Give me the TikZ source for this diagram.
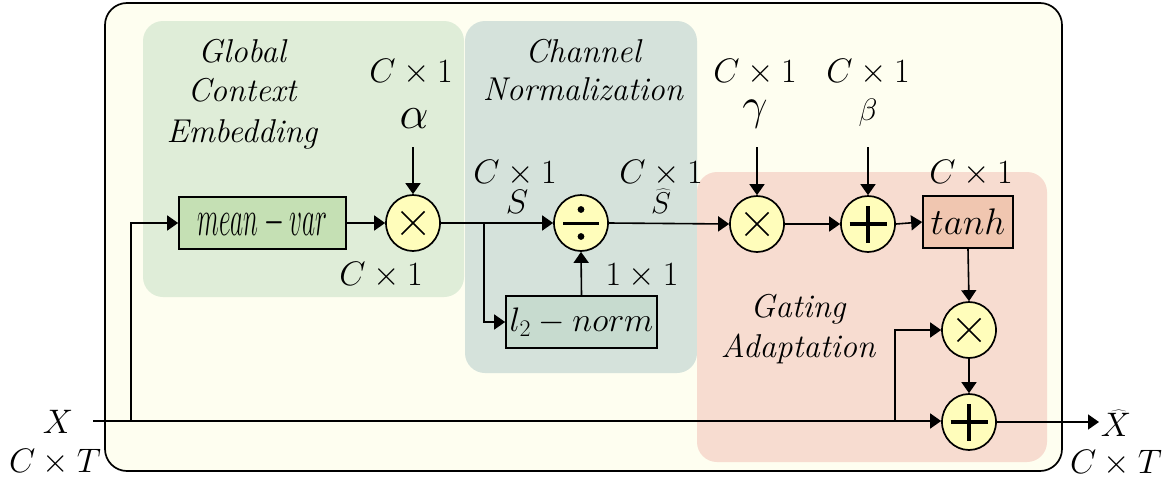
\RequirePackage{fix-cm}
\documentclass[tikz,border=0pt]{standalone}
\usepackage{graphicx}
\usetikzlibrary{arrows.meta,shapes.geometric}
\definecolor{outerfill}{RGB}{254,254,240}
\definecolor{gcefill}{RGB}{223,237,216}
\definecolor{cnfill}{RGB}{213,226,219}
\definecolor{gafill}{RGB}{247,220,208}
\definecolor{mvfill}{RGB}{197,224,180}
\definecolor{ltwofill}{RGB}{199,219,207}
\definecolor{thfill}{RGB}{240,198,176}
\definecolor{circfill}{RGB}{255,253,187}
\tikzset{
  ln/.style={line width=1.6pt},
  arr/.style={ln, -{Triangle[length=11pt,width=15pt]}},
  lab/.style={font=\fontsize{34}{40}\selectfont, inner sep=0pt, anchor=base},
  ttl/.style={font=\fontsize{33}{40}\selectfont\itshape, inner sep=0pt, anchor=base},
  blk/.style={draw, line width=1.7pt, inner sep=0pt, minimum height=52pt},
  opc/.style={ellipse, draw, line width=1.7pt, fill=circfill, minimum width=54pt, minimum height=56pt, inner sep=0pt},
  opmul/.style={opc, path picture={
      \draw[black, line width=1.6pt] ([shift={(-11.5pt,-11.5pt)}]path picture bounding box.center) -- ([shift={(11.5pt,11.5pt)}]path picture bounding box.center);
      \draw[black, line width=1.6pt] ([shift={(-11.5pt,11.5pt)}]path picture bounding box.center) -- ([shift={(11.5pt,-11.5pt)}]path picture bounding box.center);}},
  opadd/.style={opc, path picture={
      \draw[black, line width=3.8pt] ([xshift=-18.5pt]path picture bounding box.center) -- ([xshift=18.5pt]path picture bounding box.center);
      \draw[black, line width=3.8pt] ([yshift=-18.5pt]path picture bounding box.center) -- ([yshift=18.5pt]path picture bounding box.center);}},
  opdiv/.style={opc, path picture={
      \draw[black, line width=3pt] ([xshift=-18pt]path picture bounding box.center) -- ([xshift=18pt]path picture bounding box.center);
      \fill[black] ([yshift=13.5pt]path picture bounding box.center) circle (3.4pt);
      \fill[black] ([yshift=-13.5pt]path picture bounding box.center) circle (3.4pt);}},
}
\begin{document}
\begin{tikzpicture}[x=1pt,y=-1pt]
\useasboundingbox (0,0) rectangle (1173,482);
% outer frame and regions
\draw[line width=1.7pt, fill=outerfill, rounded corners=22pt] (105,3) rectangle (1062,471);
\fill[gcefill, rounded corners=20pt] (143,21) rectangle (464,297);
\fill[cnfill, rounded corners=20pt] (465,21) rectangle (697,373);
\fill[gafill, rounded corners=20pt] (697,172) rectangle (1047,462);
% titles
\node[ttl] (g1) at (242,62) {Global};
\node[ttl] (g2) at (242,101) {Context};
\node[ttl] (g3) at (242,142) {Embedding};
\node[ttl] (c1) at (583,62) {Channel};
\node[ttl] (c2) at (583,100) {Normalization};
\node[ttl] (a1) at (798,317) {Gating};
\node[ttl] (a2) at (798,357) {Adaptation};
% blocks
\node[blk, fill=mvfill, minimum width=167pt] (mv) at (262.5,223) {\scalebox{0.5}[1]{\fontsize{51}{51}\selectfont$mean-var$}};
\node[opmul] (m1) at (413,223) {};
\node[opdiv] (dv) at (581,223) {};
\node[blk, fill=ltwofill, minimum width=151pt] (l2) at (581.5,322) {\fontsize{34}{40}\selectfont$l_2-norm$};
\node[opmul] (m2) at (757,224) {};
\node[opadd] (p1) at (868,224) {};
\node[blk, fill=thfill, minimum width=90pt] (th) at (968,222) {\fontsize{37}{40}\selectfont$tanh$};
\node[opmul] (m3) at (969,330) {};
\node[opadd] (p2) at (969,422) {};
% labels
\node[lab] (ca) at (411,82) {$C\times 1$};
\node[lab, font=\fontsize{46}{50}\selectfont] (al) at (414,128) {$\alpha$};
\node[lab] (cg) at (755,82) {$C\times 1$};
\node[lab, font=\fontsize{45}{50}\selectfont] (ga) at (755,119) {$\gamma$};
\node[lab] (cb) at (868,82) {$C\times 1$};
\node[lab, font=\fontsize{31}{40}\selectfont] (be) at (868,120) {$\beta$};
\node[lab] (cs) at (515,183) {$C\times 1$};
\node[lab] (sl) at (517,213) {$S$};
\node[lab] (csh) at (661,183) {$C\times 1$};
\node[lab, font=\fontsize{30}{40}\selectfont] (shl) at (661,213) {$\widehat{S}$};
\node[lab] (cmv) at (381,285) {$C\times 1$};
\node[lab] (one) at (642,285) {$1\times 1$};
\node[lab] (cth) at (971,183) {$C\times 1$};
\node[lab] (xl) at (58,433) {$X$};
\node[lab] (xtl) at (55,472) {$C\times T$};
\node[lab] (xh) at (1116,436) {$\widehat{X}$};
\node[lab] (xth) at (1116,473) {$C\times T$};
% coordinates
\coordinate (xin) at (93,421);
\coordinate (xout) at (1099,422);
\coordinate (b1) at (131,421);
\coordinate (b2) at (484,223);
\coordinate (b3) at (895,421);
\coordinate (ta) at (413,147);
\coordinate (tg) at (757,147);
\coordinate (tb) at (868,147);
% connectors
\draw[arr] (xin) -- (p2.west |- xin);
\draw[arr] (b1) |- (mv.west);
\draw[arr] (mv.east) -- (m1.west);
\draw[arr] (m1.east) -- (dv.west);
\draw[arr] (b2) |- (l2.west);
\draw[arr] (l2.north) -- (dv.south);
\draw[arr] (dv.east) -- (m2.west);
\draw[arr] (m2.east) -- (p1.west);
\draw[arr] (p1.east) -- (th.west);
\draw[arr] (th.south) -- (m3.north);
\draw[arr] (m3.south) -- (p2.north);
\draw[arr] (b3) |- (m3.west);
\draw[arr] (p2.east) -- (xout);
\draw[arr] (ta) -- (m1.north);
\draw[arr] (tg) -- (m2.north);
\draw[arr] (tb) -- (p1.north);
\end{tikzpicture}
\end{document}
